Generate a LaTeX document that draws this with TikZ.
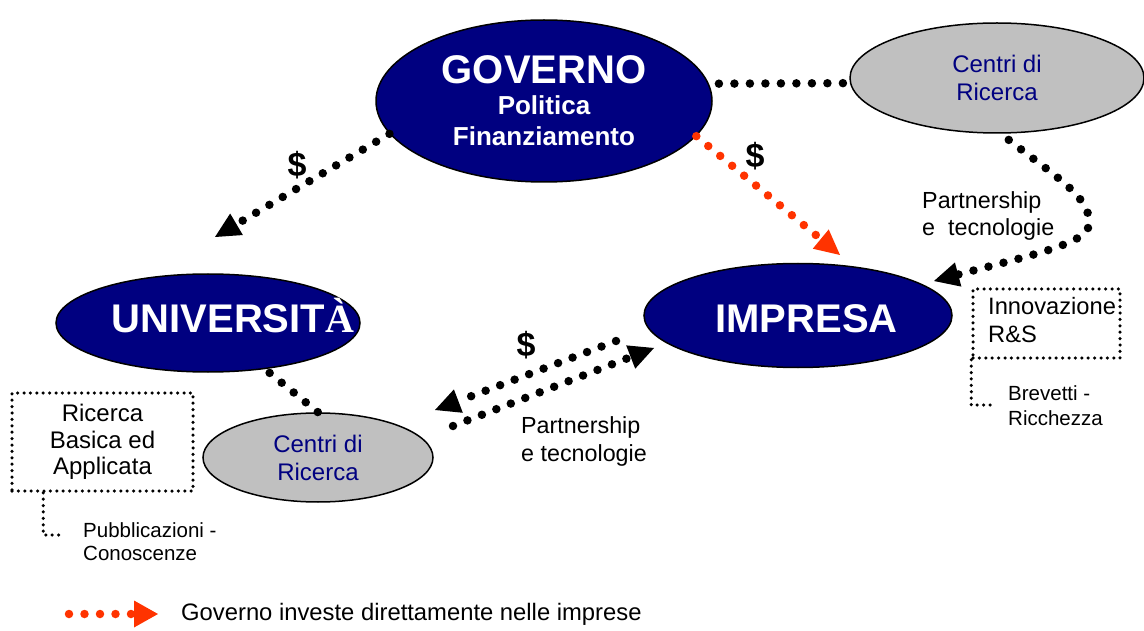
\documentclass[tikz,border=0pt]{standalone}
\usepackage{fontspec}
\setmainfont{Liberation Sans}
\newfontfamily\serifA{Liberation Serif}
\usetikzlibrary{shapes.geometric,arrows.meta}
\definecolor{navy}{RGB}{0,0,128}
\definecolor{lgray}{RGB}{192,192,192}
\definecolor{redor}{RGB}{255,51,0}
\newcommand{\fsz}[2]{\fontsize{#1}{#2}\selectfont}
\begin{document}
\begin{tikzpicture}[x=1pt,y=-1pt,
  bigell/.style={ellipse, draw=black, line width=1.5pt, fill=navy, inner sep=0pt},
  grayell/.style={ellipse, draw=black, line width=1.5pt, fill=lgray, inner sep=0pt, text=navy, align=center, font={\fsz{24}{28}}},
  biglbl/.style={text=white, font={\bfseries\fsz{40}{40}}, anchor=base, inner sep=0pt},
  dotline/.style={line width=8.5pt, line cap=round, dash pattern=on 0pt off 15.5pt},
  reddots/.style={dotline, draw=redor, color=redor},
  tipb/.style={-{Triangle[length=25pt,width=25pt,line width=0pt]}},
  boxdots/.style={line width=3.5pt, line cap=round, dash pattern=on 0pt off 6.4pt},
  boxnode/.style={draw, boxdots, inner sep=0pt},
  txt/.style={inner sep=0pt, align=left, anchor=west},
  dollar/.style={font={\bfseries\fsz{34}{34}}, inner sep=0pt}
]
\useasboundingbox (0,0) rectangle (1144,631);

% ellipses
\node[bigell, minimum width=336pt, minimum height=162pt, text=white, align=center,
      font={\bfseries\fsz{26}{31}}] (gov) at (544,101)
      {{\fsz{40}{31}GOVERNO}\\Politica\\Finanziamento};
\node[grayell, minimum width=294pt, minimum height=110pt] (ctr1) at (997,78) {Centri di\\Ricerca};
\node[bigell, minimum width=304pt, minimum height=98pt] (univ) at (208,323) {};
\node[biglbl] (univlbl) at (233,332) {UNIVERSIT{\serifA\bfseries À}};
\node[bigell, minimum width=308pt, minimum height=104pt] (imp) at (798,315.5) {};
\node[biglbl] (implbl) at (806.5,332) {IMPRESA};
\node[grayell, minimum width=230pt, minimum height=89pt] (ctr2) at (318,457.5) {Centri di\\Ricerca};

% free connector ends
\coordinate (gt) at (215,237);
\coordinate (rt) at (840,255);
\coordinate (ct) at (934,281);
\coordinate (da1s) at (616,341);
\coordinate (da1e) at (435,410);
\coordinate (da2s) at (453,426);
\coordinate (da2e) at (654,348);

% connectors
\draw[dotline] ([xshift=10pt]gov.6) -- (ctr1.182);
\draw[dotline, tipb] (gov.192) -- (gt);
\draw[reddots, tipb] (gov.-13) -- (rt);
\draw[dotline, tipb, shorten <=10pt] (ctr1.-86) .. controls (1060,180) and (1095,200) .. (1088,228)
      .. controls (1082,245) and (1020,258) .. (ct);
\draw[dotline, shorten <=6pt] (univ.-39) -- (ctr2.north);
\draw[dotline, tipb] (da1s) -- (da1e);
\draw[dotline, tipb] (da2s) -- (da2e);

% dollar signs
\node[dollar] (d1) at (297,165) {\$};
\node[dollar] (d2) at (755,156) {\$};
\node[dollar] (d3) at (526,345) {\$};

% partnership labels
\node[txt, font={\fsz{23.3}{27}}] (pt1) at (922,216) {Partnership\\e\ \ tecnologie};
\node[txt, font={\fsz{23.3}{28}}] (pt2) at (521,441) {Partnership\\e tecnologie};

% left box
\node[boxnode, minimum width=181pt, minimum height=98pt, align=center,
      font={\fsz{24}{26.5}}] (lbox) at (102.5,442) {Ricerca\\Basica ed\\Applicata};
\coordinate (pe) at (63,535);
\draw[boxdots] ([xshift=33pt]lbox.south west) |- (pe);
\node[txt, font={\fsz{20.5}{23}}] (pub) at (83,542) {Pubblicazioni -\\Conoscenze};

% right box
\node[boxnode, minimum width=147pt, minimum height=69pt] (rbox) at (1046.5,323.5) {};
\node[txt, font={\fsz{23.7}{28}}] (innov) at (988,320.5) {Innovazione\\R\&S};
\coordinate (be) at (990,405);
\draw[boxdots] (rbox.south west) |- (be);
\node[txt, font={\fsz{20.5}{25}}] (brev) at (1008,406) {Brevetti -\\Ricchezza};

% legend
\coordinate (l1) at (69,614);
\coordinate (l2) at (158,614);
\draw[reddots, -{Triangle[length=24pt,width=27pt,line width=0pt]}] (l1) -- (l2);
\node[txt, font={\fsz{23.8}{26}}] (leg) at (181,614) {Governo investe direttamente nelle imprese};
\end{tikzpicture}
\end{document}
